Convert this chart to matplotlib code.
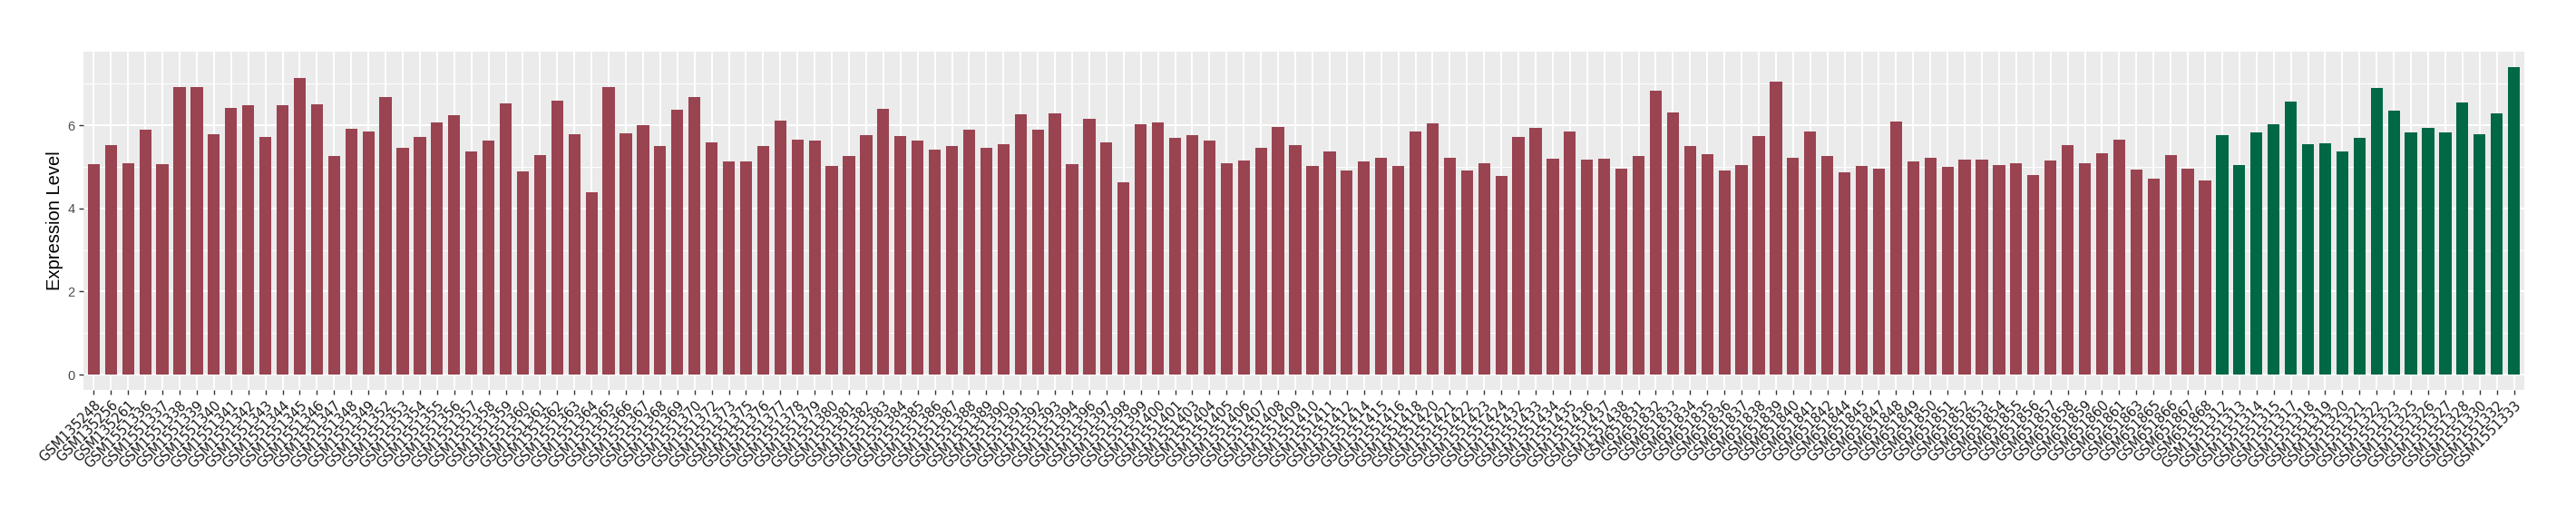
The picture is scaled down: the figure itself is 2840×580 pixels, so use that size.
import numpy as np
import matplotlib
matplotlib.use("Agg")
import matplotlib.pyplot as plt

# ---- data ----
group_a_labels = [
    "GSM135248", "GSM135256", "GSM135261",
    "GSM1551336", "GSM1551337", "GSM1551338", "GSM1551339", "GSM1551340", "GSM1551341", "GSM1551342",
    "GSM1551343", "GSM1551344", "GSM1551345", "GSM1551346", "GSM1551347", "GSM1551348", "GSM1551349",
    "GSM1551352", "GSM1551353", "GSM1551354", "GSM1551355", "GSM1551356", "GSM1551357", "GSM1551358",
    "GSM1551359", "GSM1551360", "GSM1551361", "GSM1551362", "GSM1551363", "GSM1551364", "GSM1551365",
    "GSM1551366", "GSM1551367", "GSM1551368", "GSM1551369", "GSM1551370", "GSM1551372", "GSM1551373",
    "GSM1551375", "GSM1551376", "GSM1551377", "GSM1551378", "GSM1551379", "GSM1551380", "GSM1551381",
    "GSM1551382", "GSM1551383", "GSM1551384", "GSM1551385", "GSM1551386", "GSM1551387", "GSM1551388",
    "GSM1551389", "GSM1551390", "GSM1551391", "GSM1551392", "GSM1551393", "GSM1551394", "GSM1551396",
    "GSM1551397", "GSM1551398", "GSM1551399", "GSM1551400", "GSM1551401", "GSM1551403", "GSM1551404",
    "GSM1551405", "GSM1551406", "GSM1551407", "GSM1551408", "GSM1551409", "GSM1551410", "GSM1551411",
    "GSM1551412", "GSM1551414", "GSM1551415", "GSM1551416", "GSM1551418", "GSM1551420", "GSM1551421",
    "GSM1551422", "GSM1551423", "GSM1551424", "GSM1551432", "GSM1551433", "GSM1551434", "GSM1551435",
    "GSM1551436", "GSM1551437", "GSM1551438",
    "GSM651831", "GSM651832", "GSM651833", "GSM651834", "GSM651835", "GSM651836", "GSM651837",
    "GSM651838", "GSM651839", "GSM651840", "GSM651841", "GSM651842", "GSM651844", "GSM651845",
    "GSM651847", "GSM651848", "GSM651849", "GSM651850", "GSM651851", "GSM651852", "GSM651853",
    "GSM651854", "GSM651855", "GSM651856", "GSM651857", "GSM651858", "GSM651859", "GSM651860",
    "GSM651861", "GSM651863", "GSM651865", "GSM651866", "GSM651867", "GSM651868",
]
group_a_values = [
    5.07, 5.53, 5.09, 5.90, 5.07, 6.92, 6.92, 5.79, 6.42, 6.49, 5.72, 6.49, 7.14, 6.51,
    5.27, 5.92, 5.86, 6.68, 5.46, 5.72, 6.07, 6.25, 5.36, 5.64, 6.53, 4.90, 5.29, 6.59,
    5.79, 4.38, 6.92, 5.81, 6.01, 5.51, 6.38, 6.68, 5.59, 5.14, 5.14, 5.49, 6.12, 5.66,
    5.64, 5.01, 5.27, 5.77, 6.40, 5.75, 5.64, 5.42, 5.49, 5.90, 5.46, 5.55, 6.27, 5.90, 6.29,
    5.07, 6.16, 5.59, 4.62, 6.03, 6.07, 5.70, 5.77, 5.64, 5.09, 5.16, 5.46, 5.96, 5.53,
    5.03, 5.36, 4.92, 5.12, 5.22, 5.01, 5.86, 6.05, 5.22, 4.92, 5.09, 4.79, 5.72, 5.94,
    5.20, 5.86, 5.18, 5.20, 4.96, 5.25, 6.83, 6.31, 5.49, 5.31, 4.92, 5.05, 5.75, 7.05,
    5.22, 5.86, 5.27, 4.86, 5.01, 4.96, 6.09, 5.14, 5.22, 4.99, 5.18, 5.18, 5.05, 5.09,
    4.81, 5.16, 5.53, 5.09, 5.33, 5.66, 4.94, 4.72, 5.29, 4.96, 4.68,
]
group_b_labels = [
    "GSM1551312", "GSM1551313", "GSM1551314", "GSM1551315", "GSM1551317", "GSM1551318",
    "GSM1551319", "GSM1551320", "GSM1551321", "GSM1551322", "GSM1551323", "GSM1551325",
    "GSM1551326", "GSM1551327", "GSM1551328", "GSM1551330", "GSM1551332", "GSM1551333",
]
group_b_values = [
    5.77, 5.05, 5.83, 6.03, 6.57, 5.55, 5.57, 5.38, 5.70, 6.90, 6.36, 5.83,
    5.94, 5.83, 6.55, 5.79, 6.29, 7.40,
]
y_label = "Expression Level"
y_ticks = [0, 2, 4, 6]
y_minor_ticks = [1, 3, 5, 7]

color_a = "#9A4351"
color_b = "#006845"

# ---- plot ----
labels = group_a_labels + group_b_labels
values = group_a_values + group_b_values
colors = [color_a] * len(group_a_values) + [color_b] * len(group_b_values)
x = np.arange(len(values))

W, H = 2840, 580
fig = plt.figure(figsize=(W / 100, H / 100), dpi=100)
ax = fig.add_axes([92 / W, 1 - 430 / H, (2783 - 92) / W, (430 - 57) / H])
ax.set_facecolor("#EBEBEB")

ymax = max(values)
ax.set_ylim(-0.05 * ymax, 1.05 * ymax)
ax.set_xlim(-0.6, len(values) - 1 + 0.6)

ax.yaxis.set_major_locator(matplotlib.ticker.FixedLocator(y_ticks))
ax.yaxis.set_minor_locator(matplotlib.ticker.FixedLocator(y_minor_ticks))
ax.grid(which="major", axis="both", color="white", linewidth=1.4)
ax.grid(which="minor", axis="y", color="white", linewidth=0.7)
ax.set_axisbelow(True)

ax.bar(x, values, width=0.7, color=colors, zorder=2)

for s in ax.spines.values():
    s.set_visible(False)

ax.set_xticks(x)
ax.set_xticklabels(labels, rotation=45, ha="right", va="top",
                   rotation_mode="anchor", fontsize=10.5, family="DejaVu Sans",
                   color="#1A1A1A")
ax.tick_params(axis="both", which="major", length=3.5, width=1.0, color="#333333")
ax.tick_params(axis="x", pad=3)
ax.tick_params(axis="y", which="minor", length=0)
ax.set_yticklabels([str(t) for t in y_ticks], fontsize=10.5, family="Liberation Sans",
                   color="#4D4D4D")
ax.set_ylabel(y_label, fontsize=14.5, family="Liberation Sans", labelpad=3)

fig.savefig("out.png", dpi=100)
